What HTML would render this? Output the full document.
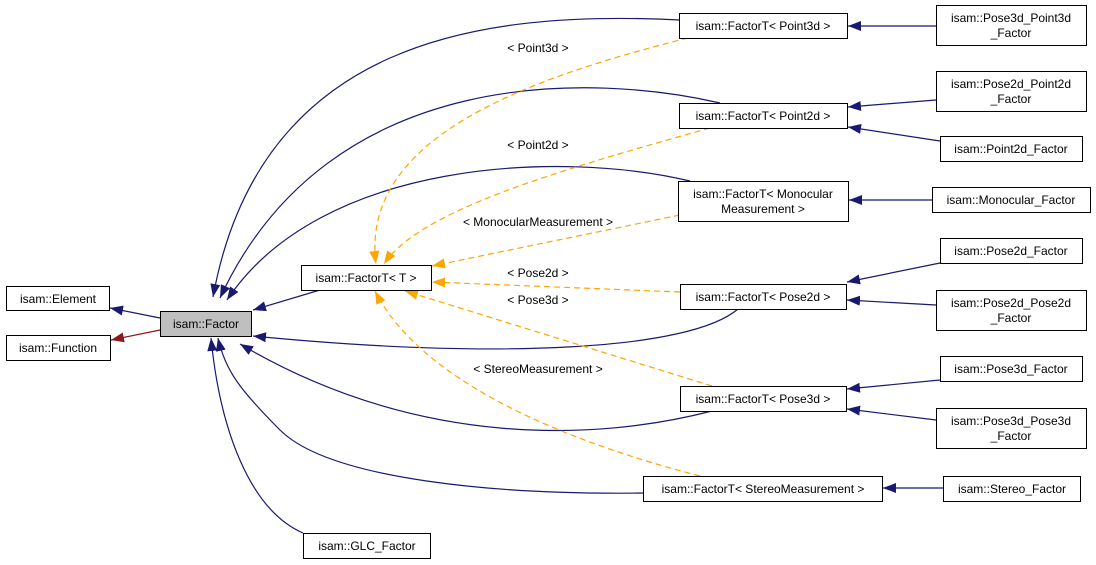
<!DOCTYPE html>
<html><head><meta charset="utf-8"><style>
html,body{margin:0;padding:0;background:#fff;}
svg{display:block;}
text{font-family:"Liberation Sans",sans-serif;font-size:12px;fill:#000;}
</style></head><body>
<svg width="1096" height="565" viewBox="0 0 1096 565" xmlns="http://www.w3.org/2000/svg">
<defs>
<marker id="an" markerUnits="userSpaceOnUse" markerWidth="14" markerHeight="10" refX="13" refY="5" orient="auto"><path d="M0,0 L13,5 L0,10 z" fill="#191970"/></marker>
<marker id="ar" markerUnits="userSpaceOnUse" markerWidth="14" markerHeight="10" refX="13" refY="5" orient="auto"><path d="M0,0 L13,5 L0,10 z" fill="#8b1a1a"/></marker>
<marker id="ao" markerUnits="userSpaceOnUse" markerWidth="14" markerHeight="10" refX="13" refY="5" orient="auto"><path d="M0,0 L13,5 L0,10 z" fill="#ffa500"/></marker>
</defs>
<g fill="none" stroke="#191970" stroke-width="1.2" marker-end="url(#an)">
<path d="M680,20 C480,10 260,40 213,297"/>
<path d="M720,103 C600,75 330,60 220,298"/>
<path d="M690,181 C560,150 320,160 227,300"/>
<path d="M320,290 L253,310"/>
<path d="M738,309 C690,350 500,360 253,336"/>
<path d="M712,411 C600,440 420,450 240,344"/>
<path d="M643,493 C500,495 330,480 280,430 C240,390 225,370 218,338"/>
<path d="M303,533 C250,510 220,430 211,338"/>
<path d="M936,26 L848,26"/>
<path d="M936,100 L848,107"/>
<path d="M940,141 L848,127"/>
<path d="M932,200 L849,200"/>
<path d="M940,263 L847,282"/>
<path d="M936,305 L847,300"/>
<path d="M940,380 L847,389"/>
<path d="M936,420 L847,409"/>
<path d="M943,488 L883,488"/>
<path d="M160,318 L110,308"/>
</g>
<path d="M160,330 L111,340" fill="none" stroke="#8b1a1a" stroke-width="1.2" marker-end="url(#ar)"/>
<g fill="none" stroke="#ffa500" stroke-width="1.2" stroke-dasharray="6,4" marker-end="url(#ao)">
<path d="M688,38 C520,80 360,140 376,264"/>
<path d="M710,128 C560,170 420,210 384,264"/>
<path d="M680,215 L432,266"/>
<path d="M680,292 L432,282"/>
<path d="M712,386 L405,291"/>
<path d="M700,476 C560,440 420,380 375,291"/>
</g>
<g text-anchor="middle">
<text x="538" y="52">&lt; Point3d &gt;</text>
<text x="538" y="149">&lt; Point2d &gt;</text>
<text x="538" y="226">&lt; MonocularMeasurement &gt;</text>
<text x="538" y="277">&lt; Pose2d &gt;</text>
<text x="538" y="304">&lt; Pose3d &gt;</text>
<text x="538" y="373">&lt; StereoMeasurement &gt;</text>
</g>
<g stroke="#000" stroke-width="1" fill="#fff">
<rect x="6.5" y="286.5" width="103" height="24"/>
<rect x="6.5" y="335.5" width="104" height="25"/>
<rect x="160.5" y="311.5" width="91" height="25" fill="#bfbfbf"/>
<rect x="301.5" y="265.5" width="130" height="25"/>
<rect x="679.5" y="13.5" width="168" height="25"/>
<rect x="936.5" y="5.5" width="150" height="40"/>
<rect x="679.5" y="103.5" width="168" height="25"/>
<rect x="936.5" y="71.5" width="150" height="40"/>
<rect x="940.5" y="136.5" width="142" height="25"/>
<rect x="678.5" y="181.5" width="170" height="40"/>
<rect x="932.5" y="187.5" width="158" height="25"/>
<rect x="940.5" y="238.5" width="142" height="25"/>
<rect x="680.5" y="284.5" width="166" height="25"/>
<rect x="936.5" y="290.5" width="150" height="40"/>
<rect x="940.5" y="356.5" width="142" height="25"/>
<rect x="680.5" y="386.5" width="166" height="25"/>
<rect x="936.5" y="408.5" width="150" height="40"/>
<rect x="643.5" y="476.5" width="239" height="25"/>
<rect x="943.5" y="476.5" width="137" height="25"/>
<rect x="303.5" y="533.5" width="127" height="25"/>
</g>
<g text-anchor="middle">
<text x="58" y="303">isam::Element</text>
<text x="58" y="352">isam::Function</text>
<text x="206" y="328">isam::Factor</text>
<text x="366" y="282">isam::FactorT&lt; T &gt;</text>
<text x="763" y="30">isam::FactorT&lt; Point3d &gt;</text>
<text x="1011" y="22">isam::Pose3d_Point3d</text>
<text x="1011" y="37">_Factor</text>
<text x="763" y="120">isam::FactorT&lt; Point2d &gt;</text>
<text x="1011" y="88">isam::Pose2d_Point2d</text>
<text x="1011" y="103">_Factor</text>
<text x="1011" y="153">isam::Point2d_Factor</text>
<text x="763" y="198">isam::FactorT&lt; Monocular</text>
<text x="763" y="213">Measurement &gt;</text>
<text x="1011" y="204">isam::Monocular_Factor</text>
<text x="1011" y="255">isam::Pose2d_Factor</text>
<text x="763" y="301">isam::FactorT&lt; Pose2d &gt;</text>
<text x="1011" y="307">isam::Pose2d_Pose2d</text>
<text x="1011" y="322">_Factor</text>
<text x="1011" y="373">isam::Pose3d_Factor</text>
<text x="763" y="403">isam::FactorT&lt; Pose3d &gt;</text>
<text x="1011" y="425">isam::Pose3d_Pose3d</text>
<text x="1011" y="440">_Factor</text>
<text x="763" y="493">isam::FactorT&lt; StereoMeasurement &gt;</text>
<text x="1012" y="493">isam::Stereo_Factor</text>
<text x="367" y="550">isam::GLC_Factor</text>
</g>
</svg>
</body></html>
